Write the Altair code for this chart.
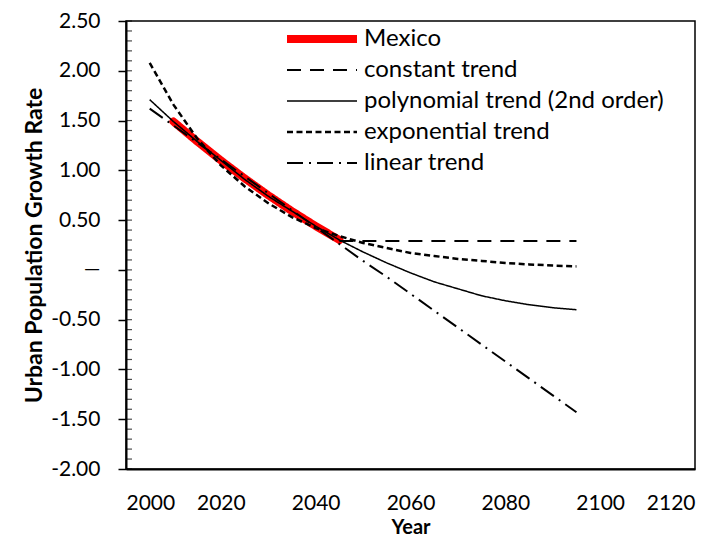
import altair as alt
import pandas as pd

FONT = "Lato"

series_order = ["Mexico", "constant trend", "polynomial trend (2nd order)",
                "exponential trend", "linear trend"]

mexico_years = [2010, 2015, 2020, 2025, 2030, 2035, 2040, 2045]
mexico_vals = [1.49, 1.29, 1.10, 0.92, 0.75, 0.59, 0.44, 0.30]

trend_years = [2005, 2010, 2015, 2020, 2025, 2030, 2035, 2040, 2045, 2050,
               2055, 2060, 2065, 2070, 2075, 2080, 2085, 2090, 2095]
poly_vals = [1.71, 1.49, 1.29, 1.10, 0.91, 0.74, 0.59, 0.44, 0.30, 0.18,
             0.07, -0.03, -0.12, -0.19, -0.26, -0.31, -0.35, -0.38, -0.40]
exp_vals = [2.08, 1.66, 1.32, 1.05, 0.84, 0.67, 0.53, 0.42, 0.34, 0.27,
            0.22, 0.17, 0.14, 0.11, 0.09, 0.07, 0.055, 0.044, 0.035]
lin_vals = [1.62, 1.45, 1.28, 1.11, 0.94, 0.77, 0.60, 0.43, 0.26, 0.09,
            -0.07, -0.24, -0.41, -0.58, -0.75, -0.92, -1.09, -1.26, -1.43]
const_years = [2045, 2095]
const_vals = [0.29, 0.29]

y_minor = [round(-2.0 + 0.1 * i, 1) for i in range(46)]

rows = []
for y, v in zip(mexico_years, mexico_vals):
    rows.append({"year": y, "value": v, "series": "Mexico"})
for y, v in zip(const_years, const_vals):
    rows.append({"year": y, "value": v, "series": "constant trend"})
for y, v in zip(trend_years, poly_vals):
    rows.append({"year": y, "value": v, "series": "polynomial trend (2nd order)"})
for y, v in zip(trend_years, exp_vals):
    rows.append({"year": y, "value": v, "series": "exponential trend"})
for y, v in zip(trend_years, lin_vals):
    rows.append({"year": y, "value": v, "series": "linear trend"})
df = pd.DataFrame(rows)

color_scale = alt.Scale(domain=series_order,
                        range=["#ff0000", "black", "black", "black", "black"])
dash_scale = alt.Scale(domain=series_order,
                       range=[[1, 0], [14, 9], [1, 0], [6, 3.5], [16, 6, 2, 6]])
width_scale = alt.Scale(type="ordinal", domain=series_order,
                        range=[8, 2, 1.5, 2.5, 2])

x_enc = alt.X("year:Q", scale=alt.Scale(domain=[2000, 2120], nice=False),
              axis=alt.Axis(values=[2000, 2020, 2040, 2060, 2080, 2100, 2120],
                            format="d", ticks=False, grid=False,
                            labelPadding=23, labelFontSize=21,
                            title="Year", titlePadding=4, titleFontSize=20))
y_axis = alt.Axis(values=[-2.0, -1.5, -1.0, -0.5, 0, 0.5, 1.0, 1.5, 2.0, 2.5],
                  labelExpr="datum.value == 0 ? '\u2014' : replace(format(datum.value, '.2f'), '\u2212', '-')",
                  tickSize=8, grid=False, labelPadding=18, labelFontSize=21,
                  title="Urban Population Growth Rate", titlePadding=4,
                  titleFontSize=23)
y_enc = alt.Y("value:Q", scale=alt.Scale(domain=[-2.0, 2.5], nice=False),
              axis=y_axis)

legend = alt.Legend(title=None, orient="none", legendX=157, legendY=7,
                    symbolType="stroke", symbolSize=4900, labelFontSize=24,
                    labelFont=FONT, rowPadding=7, labelOffset=3, labelLimit=500,
                    clipHeight=22)

common = dict(
    color=alt.Color("series:N", scale=color_scale, legend=legend),
    strokeDash=alt.StrokeDash("series:N", scale=dash_scale, legend=legend),
    strokeWidth=alt.StrokeWidth("series:N", scale=width_scale, legend=legend),
)

mex = alt.Chart(df).transform_filter(alt.datum.series == "Mexico").mark_line(
    strokeCap="round").encode(x=x_enc, y=y_enc, **common)

trends = alt.Chart(df).transform_filter(alt.datum.series != "Mexico").mark_line(
    strokeCap="butt").encode(x=x_enc, y=y_enc, **common)

minor = alt.Chart(pd.DataFrame({"value": y_minor})).mark_tick(
    orient="horizontal", color="black", size=6, thickness=1.2).encode(
    y=y_enc, x=alt.value(3))

chart = alt.layer(mex, trends, minor).properties(
    width=569, height=448,
    autosize=alt.AutoSizeParams(type="none"),
    padding={"left": 118, "top": 13, "right": 20, "bottom": 70},
).configure_view(stroke="black", strokeWidth=1.5).configure_axis(
    labelFont=FONT, titleFont=FONT,
    titleFontWeight="bold", labelColor="black", titleColor="black",
    domainColor="black", domainWidth=2, tickColor="black", tickWidth=1.5,
)

chart.save("out.html", embed_options={"renderer": "svg", "actions": False})
